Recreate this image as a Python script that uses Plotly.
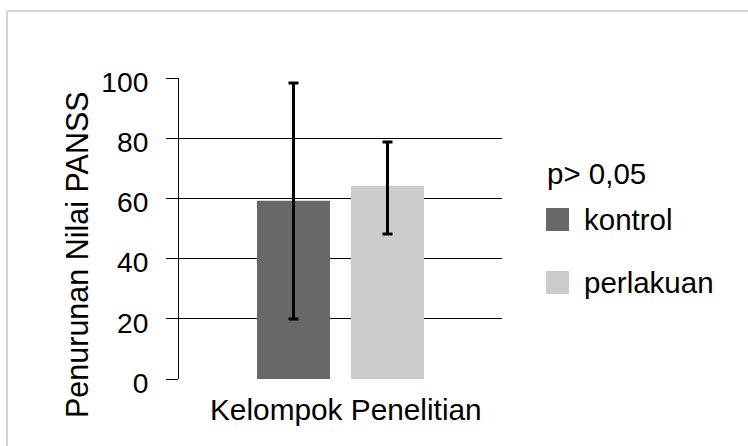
import plotly.graph_objects as go

# Data
category = ["Kelompok Penelitian"]
groups = ["kontrol", "perlakuan"]
means = [59.2, 64.2]
err_plus = [39.1, 14.5]
err_minus = [39.3, 16.0]
colors = ["#686868", "#cccccc"]
y_ticks = [0, 20, 40, 60, 80, 100]
legend_title = "p> 0,05"
x_title = "Kelompok Penelitian"
y_title = "Penurunan Nilai PANSS"

FONT = "Liberation Sans, Arial, sans-serif"
W_FIG, H_FIG = 748, 446
L, R, T, B = 179, 246, 78, 67
PW, PH = W_FIG - L - R, H_FIG - T - B


def px(xp):
    return (xp - L) / PW


def py(yp):
    return (T + PH - yp) / PH


fig = go.Figure()
for name, m, ep, em, c in zip(groups, means, err_plus, err_minus, colors):
    fig.add_trace(go.Bar(
        x=category, y=[m], name=name,
        marker=dict(color=c, line=dict(width=0)),
        error_y=dict(type="data", symmetric=False, array=[ep], arrayminus=[em],
                     color="#000000", thickness=3, width=5),
        showlegend=False,
    ))

shapes = [
    # outer chart frame
    dict(type="line", xref="paper", yref="paper", x0=px(7), x1=px(760), y0=py(11), y1=py(11),
         line=dict(color="#d4d4d4", width=2)),
    dict(type="line", xref="paper", yref="paper", x0=px(7), x1=px(7), y0=py(11), y1=py(460),
         line=dict(color="#d4d4d4", width=2)),
]
annotations = [
    dict(text=y_title, xref="paper", yref="paper", x=px(77), y=py(255), textangle=-90,
         showarrow=False, xanchor="center", yanchor="middle",
         font=dict(family=FONT, size=30.5, color="#000")),
    dict(text=x_title, xref="paper", yref="paper", x=px(345.5), y=py(410),
         showarrow=False, xanchor="center", yanchor="middle",
         font=dict(family=FONT, size=29.8, color="#000")),
    dict(text=legend_title, xref="paper", yref="paper", x=px(545), y=py(173),
         showarrow=False, xanchor="left", yanchor="middle",
         font=dict(family=FONT, size=29.5, color="#000")),
]
# hand-drawn legend entries
for i, (name, c) in enumerate(zip(groups, colors)):
    cy = 219.5 + i * 63
    shapes.append(dict(type="rect", xref="paper", yref="paper",
                       x0=px(546), x1=px(569), y0=py(cy - 11.5), y1=py(cy + 11.5),
                       fillcolor=c, line=dict(width=0)))
    annotations.append(dict(text=name, xref="paper", yref="paper", x=px(582), y=py(cy),
                            showarrow=False, xanchor="left", yanchor="middle",
                            font=dict(family=FONT, size=29.5, color="#000")))

fig.update_layout(
    width=W_FIG, height=H_FIG,
    margin=dict(l=L, r=R, t=T, b=B),
    paper_bgcolor="#ffffff", plot_bgcolor="#ffffff",
    barmode="group", bargap=0.418, bargroupgap=0.223,
    font=dict(family=FONT, color="#000"),
    shapes=shapes, annotations=annotations,
    xaxis=dict(showticklabels=False, ticks="", showgrid=False, zeroline=False,
               showline=False),
    yaxis=dict(range=[0, 100], tickvals=y_ticks, ticks="outside", ticklen=12,
               tickcolor="#000", tickwidth=1, showgrid=True, gridcolor="#000",
               gridwidth=1, showline=True, linecolor="#000", linewidth=1,
               zeroline=False, tickfont=dict(family=FONT, size=28.2, color="#000"),
               ticklabelstandoff=12, ticklabelshift=4),
)

fig.write_html("out.html")
